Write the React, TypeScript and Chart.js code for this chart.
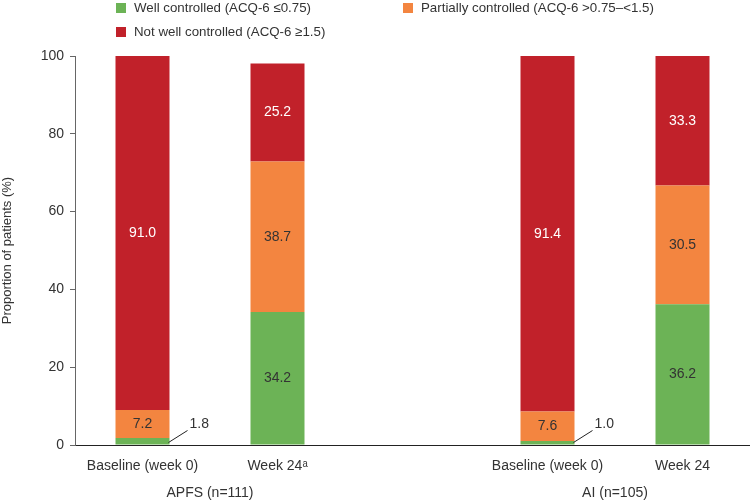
import React, { useEffect, useRef } from "react";
import { Chart, registerables } from "chart.js";

Chart.register(...registerables);

const categories = ["Baseline (week 0)", "Week 24\u1d43", "", "Baseline (week 0)", "Week 24"];
const wellControlled = [1.8, 34.2, null, 1.0, 36.2];
const partiallyControlled = [7.2, 38.7, null, 7.6, 30.5];
const notWellControlled = [91.0, 25.2, null, 91.4, 33.3];
const seriesNames = [
  "Well controlled (ACQ-6 \u22640.75)",
  "Partially controlled (ACQ-6 >0.75\u2013<1.5)",
  "Not well controlled (ACQ-6 \u22651.5)",
];
const groupLabels = ["APFS (n=111)", "AI (n=105)"];
const groupSpans = [
  [0, 1],
  [3, 4],
];
const yTicks = [0, 20, 40, 60, 80, 100];

const COLORS = ["#6CB356", "#F38540", "#C1212A"];
const FONT = "'Liberation Sans', Arial, Helvetica, sans-serif";
const TEXT = "#333333";

const labelPlugin = {
  id: "segLabels",
  afterDatasetsDraw(chart: any) {
    const ctx = chart.ctx;
    ctx.save();
    ctx.font = `14px ${FONT}`;
    chart.data.datasets.forEach((ds: any, di: number) => {
      const meta = chart.getDatasetMeta(di);
      meta.data.forEach((el: any, j: number) => {
        const v = ds.data[j];
        if (v == null) return;
        const top = Math.min(el.y, el.base);
        const bot = Math.max(el.y, el.base);
        const txt = v.toFixed(1);
        if (v < 3) {
          const sx = el.x + el.width / 2 - 1;
          const sy = bot - 2;
          ctx.strokeStyle = "#222";
          ctx.lineWidth = 1;
          ctx.beginPath();
          ctx.moveTo(sx, sy);
          ctx.lineTo(sx + 19, sy - 12);
          ctx.stroke();
          ctx.fillStyle = TEXT;
          ctx.textAlign = "left";
          ctx.textBaseline = "middle";
          ctx.fillText(txt, sx + 21, sy - 18);
        } else {
          ctx.fillStyle = di === 2 ? "#ffffff" : TEXT;
          ctx.textAlign = "center";
          ctx.textBaseline = "middle";
          ctx.fillText(txt, el.x, (top + bot) / 2);
        }
      });
    });
    ctx.restore();
  },
};

const groupPlugin = {
  id: "groupLabels",
  afterDraw(chart: any) {
    const ctx = chart.ctx;
    const xs = chart.scales.x;
    ctx.save();
    ctx.font = `14px ${FONT}`;
    ctx.fillStyle = TEXT;
    ctx.textAlign = "center";
    ctx.textBaseline = "middle";
    groupLabels.forEach((g, i) => {
      const [a, b] = groupSpans[i];
      const cx = (xs.getPixelForValue(a) + xs.getPixelForValue(b)) / 2;
      ctx.fillText(g, cx, 493);
    });
    ctx.restore();
  },
};

export default function App() {
  const ref = useRef<HTMLCanvasElement | null>(null);
  useEffect(() => {
    if (!ref.current) return;
    const chart = new Chart(ref.current, {
      type: "bar",
      data: {
        labels: categories,
        datasets: [
          { label: seriesNames[0], data: wellControlled as any, backgroundColor: COLORS[0] },
          { label: seriesNames[1], data: partiallyControlled as any, backgroundColor: COLORS[1] },
          { label: seriesNames[2], data: notWellControlled as any, backgroundColor: COLORS[2] },
        ],
      },
      options: {
        animation: false,
        responsive: false,
        devicePixelRatio: 1,
        layout: { padding: { left: 0, right: 0, top: 56, bottom: 0 } },
        datasets: { bar: { barPercentage: 0.4, categoryPercentage: 1 } },
        plugins: { legend: { display: false }, tooltip: { enabled: false } },
        scales: {
          x: {
            stacked: true,
            grid: { display: false },
            border: { display: true, color: "#222", width: 1 },
            ticks: {
              autoSkip: false,
              maxRotation: 0,
              padding: 5,
              color: TEXT,
              font: { family: FONT, size: 14 },
            },
            afterFit: (s: any) => {
              s.height = 57;
            },
          },
          y: {
            stacked: true,
            min: 0,
            max: 100,
            afterBuildTicks: (s: any) => {
              s.ticks = yTicks.map((v) => ({ value: v }));
            },
            grid: { drawOnChartArea: false, drawTicks: true, tickLength: 5, color: "#666" },
            border: { display: true, color: "#666", width: 1 },
            ticks: { padding: 6, color: TEXT, font: { family: FONT, size: 14 } },
            title: {
              display: true,
              text: "Proportion of patients (%)",
              color: TEXT,
              font: { family: FONT, size: 13 },
              padding: { top: 0, bottom: 0 },
            },
            afterFit: (s: any) => {
              s.width = 75;
            },
          },
        },
      },
      plugins: [labelPlugin, groupPlugin],
    });
    return () => chart.destroy();
  }, []);

  const legendItem = (i: number, left: number, top: number) => (
    <div
      key={i}
      style={{
        position: "absolute",
        left,
        top,
        display: "flex",
        alignItems: "center",
        whiteSpace: "nowrap",
        fontFamily: FONT,
        fontSize: 13.3,
        color: TEXT,
        lineHeight: "16px",
      }}
    >
      <span
        style={{ display: "inline-block", width: 10, height: 10, background: COLORS[i], marginRight: 8 }}
      />
      <span>{seriesNames[i]}</span>
    </div>
  );

  return (
    <div style={{ position: "fixed", left: 0, top: 0, width: 750, height: 502, background: "#fff" }}>
      <canvas ref={ref} width={750} height={502} style={{ position: "absolute", left: 0, top: 0 }} />
      {legendItem(0, 116, 0)}
      {legendItem(1, 403, 0)}
      {legendItem(2, 116, 24)}
    </div>
  );
}
